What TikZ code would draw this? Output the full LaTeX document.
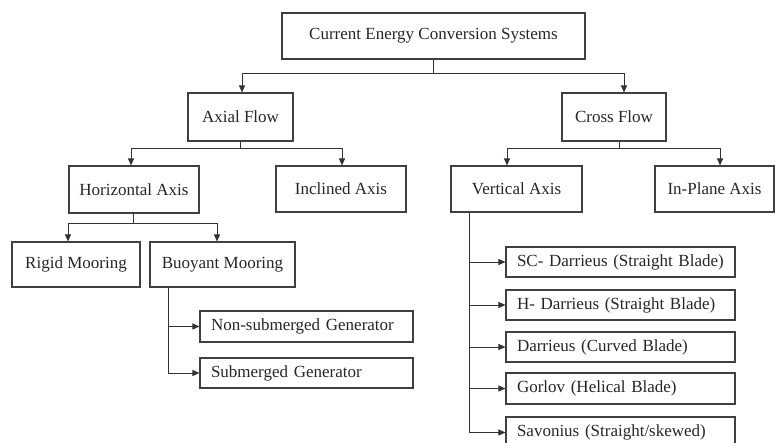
\documentclass[tikz,border=0pt]{standalone}
\usepackage{fontspec}
\setmainfont{Liberation Serif}
\usetikzlibrary{arrows.meta}

\tikzset{
  catbox/.style={draw=black!75, line width=1.1pt, inner sep=0pt, text=black!85,
    font=\fontsize{17}{20}\selectfont},
  listbox/.style={catbox, text width=207pt, inner xsep=11pt, align=left, minimum height=30pt},
  link/.style={line width=0.8pt, black!80},
  tip/.style={link, -{Triangle[length=7pt,width=6pt]}}
}

\begin{document}
\begin{tikzpicture}[x=1pt,y=-1pt]
  \useasboundingbox (0,0) rectangle (775,443);
  % top levels
  \node[catbox, minimum width=303pt, minimum height=46pt] (ces) at (433.5,36) {Current Energy Conversion Systems};
  \node[catbox, minimum width=105pt, minimum height=48pt] (axial) at (240.5,117) {Axial Flow};
  \node[catbox, minimum width=104pt, minimum height=48pt] (cross) at (614,117) {Cross Flow};
  \node[catbox, minimum width=130pt, minimum height=47pt] (horiz) at (134,189.5) {Horizontal Axis};
  \node[catbox, minimum width=130pt, minimum height=46pt] (incl) at (341,189) {Inclined Axis};
  \node[catbox, minimum width=131pt, minimum height=46pt] (vert) at (516.5,189) {Vertical Axis};
  \node[catbox, minimum width=119pt, minimum height=46pt] (inplane) at (714.5,189) {In-Plane Axis};
  % axial flow branch
  \node[catbox, minimum width=128pt, minimum height=45pt] (rigid) at (76,264.5) {Rigid Mooring};
  \node[catbox, minimum width=145pt, minimum height=45pt] (buoy) at (222.5,264.5) {Buoyant Mooring};
  \node[listbox, text width=191pt, minimum height=31pt] (nonsub) at (306.5,326.5) {Non-submerged Generator};
  \node[listbox, text width=191pt] (sub) at (306.5,373) {Submerged Generator};
  % cross flow branch
  \node[listbox] (scd) at (620.5,262) {SC- Darrieus (Straight Blade)};
  \node[listbox] (hd) at (620.5,305) {H- Darrieus (Straight Blade)};
  \node[listbox] (dar) at (620.5,347) {Darrieus (Curved Blade)};
  \node[listbox, minimum height=31pt] (gor) at (620.5,388.5) {Gorlov (Helical Blade)};
  \node[listbox, minimum height=31pt] (sav) at (620.5,432.5) {Savonius (Straight/skewed)};

  % connectors
  \draw[link] (ces.south) -- ++(0,14) coordinate (j0);
  \draw[tip] (j0) -| ([xshift=1.5pt]axial.north);
  \draw[tip] (j0) -| ([xshift=10pt]cross.north);

  \draw[link] (axial.south) -- ++(0,7) coordinate (j1);
  \draw[tip] (j1) -| ([xshift=-3pt]horiz.north);
  \draw[tip] (j1) -| ([xshift=1pt]incl.north);

  \draw[link] ([xshift=5pt]cross.south) -- ++(0,7) coordinate (j2);
  \draw[tip] (j2) -| ([xshift=-9.5pt]vert.north);
  \draw[tip] (j2) -| ([xshift=5.5pt]inplane.north);

  \draw[link] ([xshift=-1pt]horiz.south) -- ++(0,10) coordinate (j3);
  \draw[tip] (j3) -| ([xshift=-8pt]rigid.north);
  \draw[tip] (j3) -| ([xshift=-5.5pt]buoy.north);

  \draw[tip] ([xshift=-54.5pt]buoy.south) |- (nonsub.west);
  \draw[tip] ([xshift=-54.5pt]buoy.south) |- (sub.west);

  \draw[tip] ([xshift=-47.5pt]vert.south) |- (scd.west);
  \draw[tip] ([xshift=-47.5pt]vert.south) |- (hd.west);
  \draw[tip] ([xshift=-47.5pt]vert.south) |- (dar.west);
  \draw[tip] ([xshift=-47.5pt]vert.south) |- (gor.west);
  \draw[tip] ([xshift=-47.5pt]vert.south) |- (sav.west);
\end{tikzpicture}
\end{document}
